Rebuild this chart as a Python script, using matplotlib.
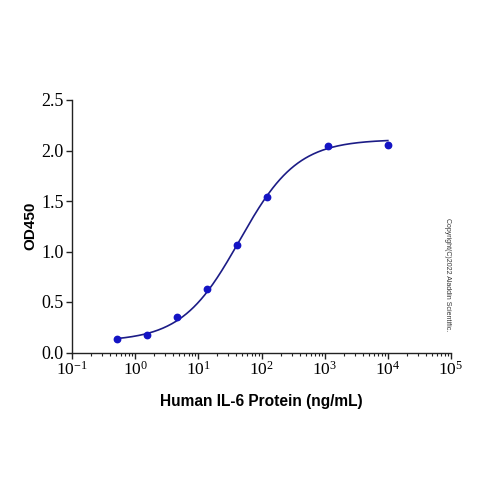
import numpy as np
import matplotlib
matplotlib.use("Agg")
import matplotlib.pyplot as plt
from matplotlib.ticker import LogLocator, NullFormatter

plt.rcParams["mathtext.fontset"] = "custom"
plt.rcParams["mathtext.rm"] = "Liberation Serif"
plt.rcParams["mathtext.it"] = "Liberation Serif:italic"
plt.rcParams["mathtext.bf"] = "Liberation Serif:bold"
plt.rcParams["mathtext.default"] = "rm"

# Data
conc = [0.508, 1.52, 4.57, 13.7, 41.2, 123.5, 1111, 10000]
od450 = [0.132, 0.175, 0.356, 0.627, 1.065, 1.544, 2.048, 2.055]

# 4PL fit parameters
bottom, top, ec50, hill = 0.11, 2.11, 45.0, 0.95

x_ticks = [1e-1, 1e0, 1e1, 1e2, 1e3, 1e4, 1e5]
x_tick_labels = ["10$^{-1}$", "10$^{0}$", "10$^{1}$", "10$^{2}$", "10$^{3}$", "10$^{4}$", "10$^{5}$"]
y_ticks = [0.0, 0.5, 1.0, 1.5, 2.0, 2.5]
y_tick_labels = ["0.0", "0.5", "1.0", "1.5", "2.0", "2.5"]

fig = plt.figure(figsize=(5, 5), dpi=100)
ax = fig.add_axes([0.144, 0.295, 0.758, 0.505])

xc = np.logspace(np.log10(conc[0]), np.log10(conc[-1]), 300)
yc = top + (bottom - top) / (1 + (xc / ec50) ** hill)
ax.plot(xc, yc, color="#1c1c86", lw=1.2, zorder=2)
ax.plot(conc, od450, "o", color="#1414c4", ms=4.6, zorder=3)

ax.set_xscale("log")
ax.set_xlim(1e-1, 1e5)
ax.set_ylim(0, 2.5)
ax.set_xticks(x_ticks)
ax.set_xticklabels(x_tick_labels, family="Liberation Serif", fontsize=12.5)
ax.xaxis.set_minor_locator(LogLocator(base=10, subs=np.arange(2, 10)))
ax.xaxis.set_minor_formatter(NullFormatter())
ax.set_yticks(y_ticks)
ax.set_yticklabels(y_tick_labels, family="Liberation Serif", fontsize=13)

for s in ["top", "right"]:
    ax.spines[s].set_visible(False)
for s in ["left", "bottom"]:
    ax.spines[s].set_linewidth(1.0)
    ax.spines[s].set_color("#222222")
ax.tick_params(axis="both", which="major", direction="out", length=4, width=1, color="#222222", pad=2)
ax.tick_params(axis="x", which="minor", direction="out", length=2.5, width=0.8, color="#222222")

ax.set_xlabel("Human IL-6 Protein (ng/mL)", family="Liberation Sans", fontweight="bold", fontsize=11.2, labelpad=11)
ax.set_ylabel("OD450", family="Liberation Sans", fontweight="bold", fontsize=11, labelpad=3)

fig.text(0.896, 0.45, "Copyright(C)2022 Aladdin Scientific.", rotation=-90, fontsize=5,
         family="Liberation Sans", color="#333333", ha="center", va="center")

fig.savefig("out.png", dpi=100, facecolor="white")
